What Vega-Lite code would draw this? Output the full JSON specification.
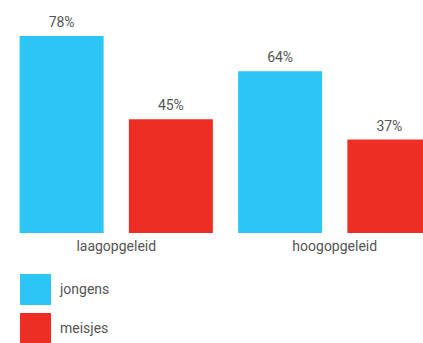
{
  "$schema": "https://vega.github.io/schema/vega-lite/v6.json",
  "width": 437,
  "height": 197,
  "autosize": {"type": "none"},
  "padding": {"left": 7, "top": 36, "right": 0, "bottom": 110},
  "background": "white",
  "config": {"view": {"stroke": null}, "font": "Roboto"},
  "data": {"values": [
    {"groep": "laagopgeleid", "geslacht": "jongens", "aandeel": 0.78},
    {"groep": "laagopgeleid", "geslacht": "meisjes", "aandeel": 0.45},
    {"groep": "hoogopgeleid", "geslacht": "jongens", "aandeel": 0.64},
    {"groep": "hoogopgeleid", "geslacht": "meisjes", "aandeel": 0.37}
  ]},
  "encoding": {
    "x": {"field": "groep", "type": "nominal", "sort": ["laagopgeleid", "hoogopgeleid"],
      "scale": {"paddingInner": 0, "paddingOuter": 0},
      "axis": {"title": null, "domain": false, "ticks": false, "labelAngle": 0, "labelPadding": 6, "labelFontSize": 14, "labelColor": "#555555", "labelFont": "Roboto"}},
    "xOffset": {"field": "geslacht", "type": "nominal", "sort": ["jongens", "meisjes"],
      "scale": {"paddingInner": 0.231, "paddingOuter": 0.1155}},
    "y": {"field": "aandeel", "type": "quantitative", "scale": {"domain": [0, 0.78], "nice": false, "zero": true}, "axis": null}
  },
  "layer": [
    {"mark": {"type": "bar"},
     "encoding": {
       "color": {"field": "geslacht", "type": "nominal", "sort": ["jongens", "meisjes"],
         "scale": {"domain": ["jongens", "meisjes"], "range": ["#2DC5F4", "#EE2E24"]},
         "legend": {"title": null, "orient": "none", "legendX": 13, "legendY": 238, "direction": "vertical",
           "symbolType": "square", "symbolSize": 961, "symbolStrokeWidth": 0, "symbolOpacity": 1,
           "rowPadding": 8, "labelFontSize": 14, "labelColor": "#555555", "labelOffset": 9, "labelFont": "Roboto"}}
     }},
    {"mark": {"type": "text", "baseline": "bottom", "dy": -6, "fontSize": 14, "color": "#555555", "font": "Roboto"},
     "encoding": {"text": {"field": "aandeel", "type": "quantitative", "format": ".0%"}}}
  ]
}
